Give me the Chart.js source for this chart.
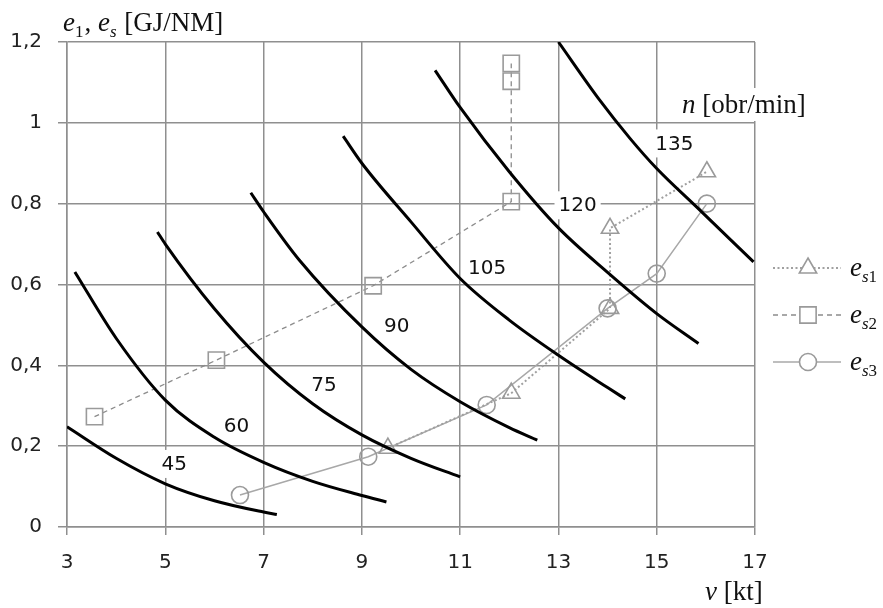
<!DOCTYPE html>
<html>
<head>
<meta charset="utf-8">
<script src="https://cdn.jsdelivr.net/npm/chart.js@4.4.1/dist/chart.umd.min.js"></script>
<style>
  html, body { margin: 0; padding: 0; background: #fff; }
  #wrap { width: 883px; height: 608px; }
</style>
</head>
<body>
<div id="wrap"><canvas id="chart" width="883" height="608"></canvas></div>
<script>
/* ------------------------------------------------------------
   e1, es vs. speed v, with constant-rpm curves (n = 45..135)
   ------------------------------------------------------------ */

// tick labels
const xTickLabels = ["3", "5", "7", "9", "11", "13", "15", "17"];
const yTickLabels = ["0", "0,2", "0,4", "0,6", "0,8", "1", "1,2"];

// constant rpm curves: speed [kt] and e1 [GJ/NM]
const rpmLabels = ["45", "60", "75", "90", "105", "120", "135"];
const v45  = [3, 4, 5, 6, 7, 7.27];
const e45  = [0.248, 0.17, 0.107, 0.065, 0.037, 0.031];
const v60  = [3.16, 4, 5, 6, 7, 8, 9, 9.5];
const e60  = [0.631, 0.467, 0.314, 0.222, 0.16, 0.113, 0.078, 0.062];
const v75  = [4.84, 5, 6, 7, 8, 9, 10, 11];
const e75  = [0.73, 0.70, 0.54, 0.408, 0.305, 0.228, 0.17, 0.124];
const v90  = [6.74, 7, 7.73, 9, 10, 11, 12, 12.57];
const e90  = [0.827, 0.78, 0.66, 0.495, 0.39, 0.31, 0.246, 0.215];
const v105 = [8.62, 9, 10, 11, 12, 13, 14, 14.36];
const e105 = [0.967, 0.9, 0.755, 0.615, 0.512, 0.425, 0.345, 0.317];
const v120 = [10.49, 11, 12, 13, 14, 15, 15.85];
const e120 = [1.13, 1.038, 0.879, 0.74, 0.63, 0.528, 0.454];
const v135 = [13, 13.84, 14.46, 15, 15.81, 16.97];
const e135 = [1.2, 1.056, 0.961, 0.887, 0.792, 0.656];

// es series
const vS1 = [9.53, 12.04, 14.05, 14.05, 16.02];
const eS1 = [0.195, 0.331, 0.541, 0.739, 0.879];
const vS2 = [3.56, 6.04, 9.23, 12.04, 12.04, 12.04];
const eS2 = [0.273, 0.413, 0.597, 0.805, 1.103, 1.147];
const vS3 = [6.52, 9.13, 11.54, 14, 15, 16.02];
const eS3 = [0.079, 0.174, 0.302, 0.541, 0.627, 0.8];

// where the rpm numbers sit (data units)
const rpmLabelX = [5.18, 6.45, 8.23, 9.71, 11.55, 13.39, 15.36];
const rpmLabelY = [0.156, 0.25, 0.351, 0.4975, 0.642, 0.796, 0.949];
const rpmBoxed  = [true, false, false, false, false, true, true];

const GRID = "#8f8f8f";
const GREY = "#9a9a9a";
const SERIF = '"Liberation Serif", "Times New Roman", serif';
const SANS = '"DejaVu Sans", Verdana, sans-serif';

function pts(xs, ys) {
  return xs.map((x, i) => ({ x: x, y: ys[i] }));
}

function rpmCurve(xs, ys) {
  return {
    data: pts(xs, ys),
    borderColor: "#000",
    borderWidth: 3,
    pointRadius: 0,
    cubicInterpolationMode: "monotone",
    fill: false
  };
}

const esStyles = {
  s1: { pointStyle: "triangle", radius: 10, dash: [2, 2.5], width: 2, color: "#a0a0a0" },
  s2: { pointStyle: "rect", radius: 11.5, dash: [5, 4], width: 1.3, color: "#8c8c8c" },
  s3: { pointStyle: "circle", radius: 8.5, dash: [], width: 1.5, color: "#a8a8a8" }
};

function esSeries(xs, ys, st) {
  return {
    data: pts(xs, ys),
    borderColor: st.color,
    borderWidth: st.width,
    borderDash: st.dash,
    tension: 0,
    pointStyle: st.pointStyle,
    pointRadius: st.radius,
    pointHoverRadius: st.radius,
    pointBorderColor: GREY,
    pointBorderWidth: 1.6,
    pointBackgroundColor: "rgba(0,0,0,0)",
    fill: false
  };
}

// draws a run of text pieces (for subscripts / italics)
function richText(ctx, parts, x, y) {
  ctx.save();
  ctx.textAlign = "left";
  ctx.textBaseline = "alphabetic";
  ctx.fillStyle = "#111";
  let cx = x;
  parts.forEach(p => {
    ctx.font = p.f;
    ctx.fillText(p.t, cx, y + (p.dy || 0));
    cx += ctx.measureText(p.t).width + (p.gap || 0);
  });
  ctx.restore();
  return cx;
}

const fBig = "27px " + SERIF;
const fBigI = "italic 27px " + SERIF;
const fSub = "17px " + SERIF;
const fSubI = "italic 17px " + SERIF;

const rpmLabelPlugin = {
  id: "rpmLabels",
  beforeDatasetsDraw(chart) {
    const ctx = chart.ctx;
    const xs = chart.scales.x, ys = chart.scales.y;
    ctx.save();
    ctx.font = "20px " + SANS;
    ctx.textAlign = "center";
    ctx.textBaseline = "middle";
    rpmLabels.forEach((t, i) => {
      const px = xs.getPixelForValue(rpmLabelX[i]);
      const py = ys.getPixelForValue(rpmLabelY[i]);
      const w = ctx.measureText(t).width;
      if (rpmBoxed[i]) {
        ctx.fillStyle = "#fff";
        ctx.fillRect(px - w / 2 - 4, py - 14, w + 8, 28);
      }
      ctx.fillStyle = "#111";
      ctx.fillText(t, px, py + 1);
    });
    ctx.restore();
  },
  afterDraw(chart) {
    const ctx = chart.ctx;
    const area = chart.chartArea;

    // y axis title
    richText(ctx, [
      { t: "e", f: fBigI },
      { t: "1", f: fSub, dy: 6, gap: 1 },
      { t: ", ", f: fBig },
      { t: "e", f: fBigI },
      { t: "s", f: fSubI, dy: 6, gap: 1 },
      { t: " [GJ/NM]", f: fBig }
    ], area.left - 4, 31);

    // x axis title
    richText(ctx, [
      { t: "v", f: fBigI },
      { t: " [kt]", f: fBig }
    ], 705, 600);

    // rpm title, on a white box
    ctx.save();
    ctx.fillStyle = "#fff";
    ctx.fillRect(676, 88, 150, 33);
    ctx.restore();
    richText(ctx, [
      { t: "n", f: fBigI },
      { t: " [obr/min]", f: fBig }
    ], 682, 113);

    // legend
    const rows = [
      { st: esStyles.s1, sub: "s1", y: 268 },
      { st: esStyles.s2, sub: "s2", y: 315 },
      { st: esStyles.s3, sub: "s3", y: 362 }
    ];
    rows.forEach(r => {
      ctx.save();
      ctx.strokeStyle = r.st.color;
      ctx.lineWidth = r.st.width;
      ctx.setLineDash(r.st.dash);
      ctx.beginPath();
      ctx.moveTo(773, r.y);
      ctx.lineTo(841, r.y);
      ctx.stroke();
      ctx.setLineDash([]);
      ctx.strokeStyle = GREY;
      ctx.fillStyle = "#fff";
      ctx.lineWidth = 1.6;
      Chart.helpers.drawPoint(ctx, {
        pointStyle: r.st.pointStyle,
        radius: r.st.radius,
        rotation: 0,
        borderWidth: 1.6
      }, 808, r.y);
      ctx.restore();
      richText(ctx, [
        { t: "e", f: fBigI },
        { t: r.sub[0], f: fSubI, dy: 6 },
        { t: r.sub[1], f: fSub, dy: 6 }
      ], 850, r.y + 8);
    });
  }
};

const datasets = [
  rpmCurve(v45, e45),
  rpmCurve(v60, e60),
  rpmCurve(v75, e75),
  rpmCurve(v90, e90),
  rpmCurve(v105, e105),
  rpmCurve(v120, e120),
  rpmCurve(v135, e135),
  esSeries(vS1, eS1, esStyles.s1),
  esSeries(vS2, eS2, esStyles.s2),
  esSeries(vS3, eS3, esStyles.s3)
];

new Chart(document.getElementById("chart"), {
  type: "line",
  data: { datasets },
  options: {
    responsive: false,
    animation: false,
    events: [],
    layout: { padding: { top: 42, right: 128, left: 0, bottom: 0 } },
    plugins: {
      legend: { display: false },
      tooltip: { enabled: false }
    },
    scales: {
      x: {
        type: "linear",
        min: 3, max: 17,
        afterFit: s => { s.height = 81; },
        grid: { color: GRID, lineWidth: 1.5, tickLength: 8, tickColor: GRID },
        border: { color: GRID, width: 1.5 },
        ticks: {
          stepSize: 2,
          padding: 16,
          color: "#222",
          font: { family: SANS, size: 20 },
          maxRotation: 0,
          callback: (v, i) => xTickLabels[i]
        }
      },
      y: {
        type: "linear",
        min: 0, max: 1.2,
        afterFit: s => { s.width = 67; },
        grid: { color: GRID, lineWidth: 1.5, tickLength: 9, tickColor: GRID },
        border: { color: GRID, width: 1.5 },
        ticks: {
          stepSize: 0.2,
          padding: 16,
          color: "#222",
          font: { family: SANS, size: 20 },
          callback: (v, i) => yTickLabels[i]
        }
      }
    }
  },
  plugins: [rpmLabelPlugin]
});
</script>
</body>
</html>
